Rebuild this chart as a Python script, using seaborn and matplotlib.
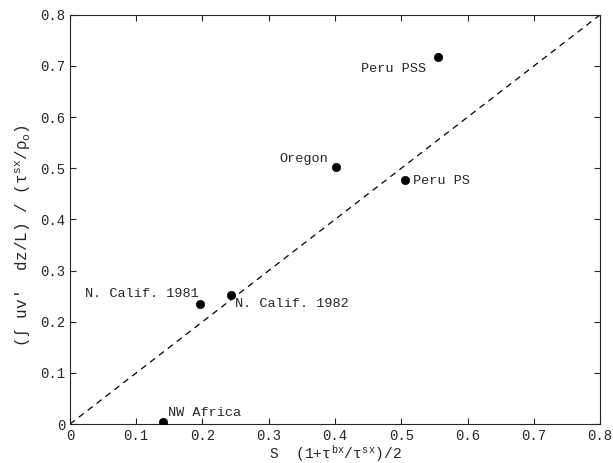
import matplotlib
matplotlib.use("Agg")
import matplotlib.pyplot as plt
import seaborn as sns
import pandas as pd

labels = ["NW Africa", "N. Calif. 1981", "N. Calif. 1982", "Oregon", "Peru PS", "Peru PSS"]
x_vals = [0.140, 0.197, 0.243, 0.402, 0.505, 0.555]
y_vals = [0.005, 0.235, 0.252, 0.502, 0.477, 0.718]
ticks = [0, 0.1, 0.2, 0.3, 0.4, 0.5, 0.6, 0.7, 0.8]
tick_labels = ["0", "0.1", "0.2", "0.3", "0.4", "0.5", "0.6", "0.7", "0.8"]

sns.set_style("ticks")
plt.rcParams["font.family"] = ["Liberation Mono", "DejaVu Sans"]
plt.rcParams["mathtext.fontset"] = "custom"
plt.rcParams["mathtext.rm"] = "Liberation Mono"
plt.rcParams["mathtext.it"] = "Liberation Mono"

df = pd.DataFrame({"x": x_vals, "y": y_vals, "label": labels})

fig = plt.figure(figsize=(6.13, 4.63), dpi=100)
ax = fig.add_axes([0.114, 0.084, 0.865, 0.884])

ax.plot([0, 0.8], [0, 0.8], ls=(0, (5, 4)), color="black", lw=0.9)
sns.scatterplot(data=df, x="x", y="y", color="black", s=36, edgecolor="black", ax=ax, zorder=3)

offsets = {
    "NW Africa": (0.008, 0.016, "left"),
    "N. Calif. 1981": (-0.003, 0.02, "right"),
    "N. Calif. 1982": (0.006, -0.017, "left"),
    "Oregon": (-0.013, 0.016, "right"),
    "Peru PS": (0.012, -0.002, "left"),
    "Peru PSS": (-0.017, -0.023, "right"),
}
for lab, xv, yv in zip(labels, x_vals, y_vals):
    dx, dy, ha = offsets[lab]
    ax.text(xv + dx, yv + dy, lab, ha=ha, va="center", fontsize=9.7)

ax.set_xlim(0, 0.8)
ax.set_ylim(0, 0.8)
ax.set_xticks(ticks)
ax.set_xticklabels(tick_labels)
ax.set_yticks(ticks)
ax.set_yticklabels(tick_labels)
ax.tick_params(direction="in", top=True, right=True, labelsize=10, length=4, width=0.8)
for s in ax.spines.values():
    s.set_linewidth(0.8)

ax.set_xlabel(r"S  (1+$\tau^{\mathrm{bx}}$/$\tau^{\mathrm{sx}}$)/2", fontsize=10.5, labelpad=0)
ax.set_ylabel(r"(∫ uv′  dz/L) / ($\tau^{\mathrm{sx}}$/$\rho_{\mathrm{o}}$)", fontsize=11.5)
ax.yaxis.set_label_coords(-0.072, 0.46)

fig.savefig("out.png", dpi=100)
